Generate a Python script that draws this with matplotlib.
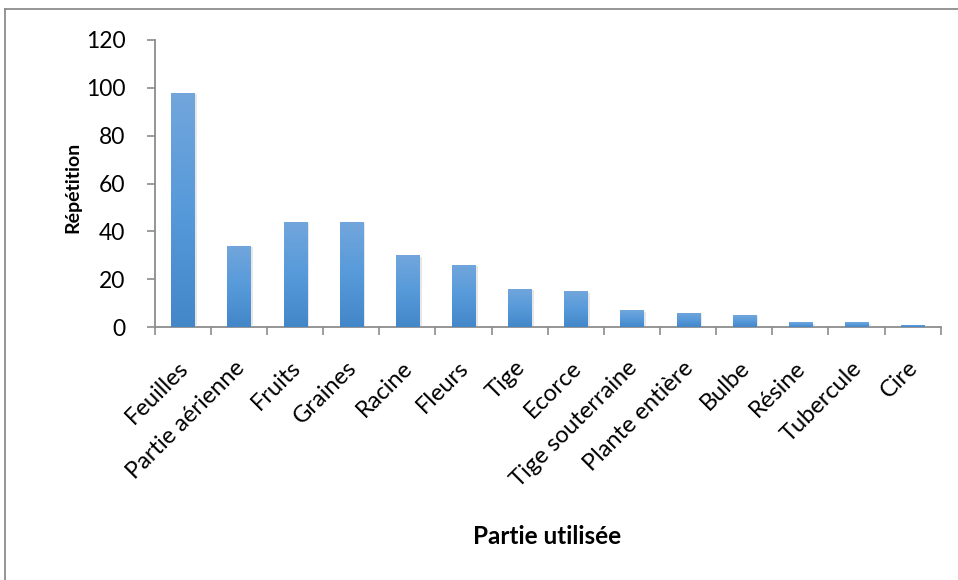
import numpy as np
import matplotlib
matplotlib.use("Agg")
import matplotlib.pyplot as plt
from matplotlib.colors import LinearSegmentedColormap
from matplotlib import patheffects as pe
from matplotlib.lines import Line2D

categories = ["Feuilles", "Partie aérienne", "Fruits", "Graines", "Racine", "Fleurs",
              "Tige", "Ecorce", "Tige souterraine", "Plante entière", "Bulbe",
              "Résine", "Tubercule", "Cire"]
values = [98, 34, 44, 44, 30, 26, 16, 15, 7, 6, 5, 2, 2, 1]
yticks = [0, 20, 40, 60, 80, 100, 120]

plt.rcParams['font.family'] = ['Lato', 'DejaVu Sans']

W, H = 958, 580
fig = plt.figure(figsize=(W / 100, H / 100), dpi=100)
fig.patch.set_facecolor("white")

# outer chart frame (top and left edges visible)
fig.add_artist(Line2D([5 / W, 5 / W], [0, 1 - 9 / H], transform=fig.transFigure,
                      color="#8c8c8c", lw=1.3))
fig.add_artist(Line2D([5 / W, 1], [1 - 9 / H, 1 - 9 / H], transform=fig.transFigure,
                      color="#8c8c8c", lw=1.3))

left, right = 154.7 / W, 940.7 / W
bottom, top = 1 - 327 / H, 1 - 40 / H
ax = fig.add_axes([left, bottom, right - left, top - bottom])

n = len(categories)
x = np.arange(n)
bars = ax.bar(x, values, width=0.41, color="#5b9bd5", zorder=3)

cmap = LinearSegmentedColormap.from_list("blue_grad", ["#4387c9", "#579ada", "#72a6dc"])
grad = np.linspace(0, 1, 256).reshape(-1, 1)
for b in bars:
    b.set_path_effects([pe.SimplePatchShadow(offset=(2, -1), shadow_rgbFace="#b0b0b0",
                                             alpha=0.3), pe.Normal()])
    bx, by = b.get_x(), b.get_y()
    bw, bh = b.get_width(), b.get_height()
    im = ax.imshow(grad, extent=[bx, bx + bw, by, by + bh], origin="lower",
                   cmap=cmap, aspect="auto", zorder=4, interpolation="bilinear")
    im.set_clip_path(b)

ax.set_xlim(-0.5, n - 0.5)
ax.set_ylim(0, 120)
ax.set_yticks(yticks)
ax.set_yticklabels([str(v) for v in yticks], fontsize=16.5)

ax.set_xticks(np.arange(n + 1) - 0.5, minor=False)
ax.set_xticklabels([])
ax.tick_params(axis="x", length=6, color="#8c8c8c", width=1.2, direction="out")
ax.tick_params(axis="y", length=6, color="#8c8c8c", width=1.2, direction="out", pad=15)

for i, lab in enumerate(categories):
    ax.annotate(lab, xy=(i, 0), xycoords=("data", "axes fraction"),
                xytext=(1.5, -27), textcoords="offset points",
                rotation=45, rotation_mode="anchor", ha="right", va="center",
                fontsize=17)

for s in ["top", "right"]:
    ax.spines[s].set_visible(False)
for s in ["left", "bottom"]:
    ax.spines[s].set_color("#8c8c8c")
    ax.spines[s].set_linewidth(1.3)

fig.text(73 / W, 1 - 187 / H, "Répétition", rotation=90, ha="center", va="center",
         fontsize=14, fontweight="bold")
fig.text(547 / W, 1 - 537 / H, "Partie utilisée", ha="center", va="center",
         fontsize=17.5, fontweight="bold")

fig.savefig("out.png", dpi=100, facecolor="white")
